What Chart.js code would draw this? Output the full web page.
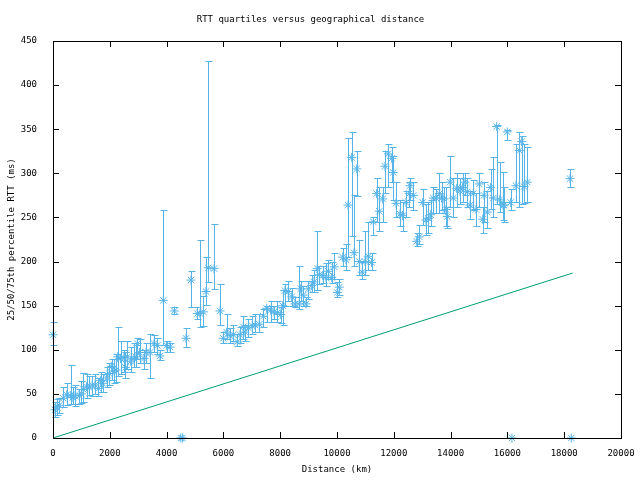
<!DOCTYPE html>
<html>
<head>
<meta charset="utf-8">
<title>RTT quartiles versus geographical distance</title>
<script src="https://cdn.jsdelivr.net/npm/chart.js@4.4.1/dist/chart.umd.min.js"></script>
<style>
  body { margin: 0; background: #fff; }
  #wrap { width: 640px; height: 480px; }
</style>
</head>
<body>
<div id="wrap"><canvas id="rtt-chart" width="640" height="480"></canvas></div>
<script>
// distance (km), median RTT and 25th/75th percentile RTT (ms)
const distKm = [
  0, 70, 150, 222, 363, 482, 623, 700, 775, 927,
  1000, 1067, 1180, 1279, 1380, 1479, 1595, 1680, 1749, 1890,
  1980, 2067, 2150, 2218, 2278, 2380, 2500, 2550, 2617, 2735,
  2850, 2923, 2970, 3050, 3204, 3275, 3415, 3556, 3673, 3768,
  3885, 4000, 4120, 4272, 4500, 4560, 4683, 4859, 5082, 5176,
  5293, 5387, 5470, 5670, 5880, 5997, 6115, 6232, 6350, 6490,
  6585, 6700, 6760, 6877, 7018, 7113, 7265, 7406, 7523, 7664,
  7782, 7899, 8017, 8087, 8170, 8285, 8404, 8521, 8673, 8720,
  8814, 8908, 8990, 9110, 9190, 9306, 9377, 9497, 9613, 9694,
  9813, 9905, 10011, 10081, 10200, 10317, 10387, 10517, 10598, 10693,
  10786, 10890, 10986, 11102, 11220, 11280, 11395, 11490, 11607, 11690,
  11807, 11925, 11982, 12077, 12218, 12312, 12430, 12546, 12570, 12687,
  12806, 12898, 13018, 13134, 13215, 13299, 13391, 13486, 13603, 13687,
  13768, 13838, 13884, 13980, 14095, 14215, 14330, 14426, 14507, 14588,
  14683, 14800, 14894, 15010, 15130, 15176, 15292, 15412, 15505, 15623,
  15730, 15845, 15880, 15996, 16115, 16160, 16302, 16420, 16503, 16585,
  16700, 18204, 18250
];
const medianMs = [
  117, 32, 35, 37, 45, 49, 48, 46, 48, 48,
  50, 55, 58, 57, 60, 60, 56, 65, 62, 68,
  73, 81, 76, 77, 92, 90, 91, 80, 92, 87,
  90, 92, 107, 97, 90, 97, 97, 107, 105, 93,
  156, 105, 103, 144, 0, 0, 113, 179, 141, 141,
  143, 166, 193, 192, 144, 113, 120, 116, 117, 109,
  117, 126, 120, 125, 127, 128, 129, 138, 147, 145,
  143, 142, 140, 150, 167, 166, 160, 152, 152, 169,
  162, 152, 169, 173, 177, 192, 185, 184, 182, 189,
  182, 194, 165, 171, 205, 202, 264, 318, 210, 305,
  200, 188, 200, 206, 199, 245, 277, 257, 271, 308,
  322, 317, 301, 266, 254, 252, 267, 277, 286, 275,
  223, 228, 267, 247, 249, 253, 272, 272, 277, 272,
  271, 259, 251, 290, 272, 283, 280, 284, 290, 279,
  264, 277, 259, 288, 248, 275, 256, 284, 272, 353,
  270, 264, 264, 347, 267, 0, 286, 326, 336, 285,
  290, 294, 0
];
const lowMs = [
  105, 24, 26, 28, 35, 37, 39, 38, 36, 38,
  40, 41, 45, 49, 48, 50, 48, 52, 52, 58,
  60, 66, 62, 63, 70, 72, 75, 68, 78, 75,
  80, 80, 90, 85, 78, 85, 68, 98, 95, 88,
  105, 98, 98, 141, 0, 0, 103, 148, 135, 126,
  127, 151, 177, 169, 128, 108, 112, 108, 110, 104,
  108, 112, 110, 115, 118, 120, 120, 126, 131, 132,
  135, 132, 130, 128, 150, 155, 150, 148, 146, 155,
  150, 150, 158, 165, 165, 168, 175, 176, 172, 180,
  176, 180, 160, 162, 195, 190, 205, 229, 195, 274,
  185, 180, 185, 190, 190, 230, 245, 235, 245, 278,
  285, 290, 270, 250, 240, 235, 250, 262, 270, 258,
  218, 220, 242, 230, 232, 240, 255, 255, 255, 258,
  255, 240, 238, 262, 250, 262, 265, 268, 275, 262,
  248, 258, 240, 262, 232, 245, 238, 260, 250, 265,
  256, 247, 245, 338, 258, 0, 268, 262, 265, 266,
  267, 284, 0
];
const highMs = [
  131, 41, 44, 45, 58, 62, 83, 58, 60, 56,
  65, 74, 72, 70, 70, 73, 68, 75, 73, 80,
  85, 89, 90, 95, 126, 110, 100, 98, 110, 103,
  108, 105, 113, 112, 100, 108, 118, 117, 113, 100,
  258, 110, 108, 148, 0, 0, 125, 189, 148, 224,
  161, 205, 427, 243, 175, 120, 141, 125, 128, 118,
  126, 138, 128, 135, 138, 140, 140, 146, 150, 155,
  150, 155, 148, 168, 175, 178, 170, 160, 195, 178,
  172, 160, 178, 185, 190, 235, 195, 195, 198, 202,
  200, 210, 177, 180, 215, 220, 340, 347, 275, 325,
  225, 200, 235, 245, 210, 250, 295, 285, 285, 325,
  333, 330, 320, 290, 270, 268, 280, 290, 295, 290,
  232, 242, 282, 265, 268, 270, 285, 282, 300, 290,
  285, 285, 262, 320, 295, 300, 295, 300, 300, 295,
  280, 292, 278, 300, 262, 290, 280, 305, 318, 355,
  313, 302, 285, 349, 282, 0, 333, 347, 342, 333,
  330, 305, 0
];

// propagation reference line (km, ms)
const refKm = [0, 18300];
const refMs = [0, 187];

const xTicks = [0, 2000, 4000, 6000, 8000, 10000, 12000, 14000, 16000, 18000, 20000];
const yTicks = [0, 50, 100, 150, 200, 250, 300, 350, 400, 450];

const BLUE = "#56b4e9";
const GREEN = "#009e73";
const FONT = { family: "DejaVu Sans Mono", size: 9 };

const errorBars = {
  id: "errorBars",
  afterDatasetsDraw(chart) {
    const { ctx, scales: { x, y } } = chart;
    ctx.save();
    ctx.strokeStyle = BLUE;
    ctx.lineWidth = 1;
    ctx.beginPath();
    distKm.forEach((d, i) => {
      if (lowMs[i] === highMs[i]) return;
      const px = Math.round(x.getPixelForValue(d)) + 0.5;
      const y1 = Math.round(y.getPixelForValue(lowMs[i])) + 0.5;
      const y2 = Math.round(y.getPixelForValue(highMs[i])) + 0.5;
      ctx.moveTo(px, y1);
      ctx.lineTo(px, y2);
      ctx.moveTo(px - 3, y1);
      ctx.lineTo(px + 4, y1);
      ctx.moveTo(px - 3, y2);
      ctx.lineTo(px + 4, y2);
    });
    ctx.stroke();
    ctx.restore();
  },
};

// gnuplot style frame with inward ticks on all four sides
const frame = {
  id: "frame",
  afterDraw(chart) {
    const { ctx, chartArea: a, scales: { x, y } } = chart;
    ctx.save();
    ctx.strokeStyle = "#000";
    ctx.lineWidth = 1;
    ctx.beginPath();
    xTicks.forEach((v) => {
      const p = Math.round(x.getPixelForValue(v)) + 0.5;
      ctx.moveTo(p, a.bottom);
      ctx.lineTo(p, a.bottom - 6);
      ctx.moveTo(p, a.top);
      ctx.lineTo(p, a.top + 6);
    });
    yTicks.forEach((v) => {
      const p = Math.round(y.getPixelForValue(v)) + 0.5;
      ctx.moveTo(a.left, p);
      ctx.lineTo(a.left + 6, p);
      ctx.moveTo(a.right, p);
      ctx.lineTo(a.right - 6, p);
    });
    ctx.stroke();
    ctx.strokeRect(
      Math.round(a.left) + 0.5,
      Math.round(a.top) + 0.5,
      Math.round(a.right - a.left),
      Math.round(a.bottom - a.top)
    );
    ctx.restore();
  },
};

new Chart(document.getElementById("rtt-chart"), {
  type: "scatter",
  data: {
    datasets: [
      {
        type: "line",
        data: refKm.map((d, i) => ({ x: d, y: refMs[i] })),
        borderColor: GREEN,
        borderWidth: 1,
        pointRadius: 0,
        fill: false,
      },
      {
        data: distKm.map((d, i) => ({ x: d, y: medianMs[i] })),
        pointStyle: "star",
        pointRadius: 4.5,
        borderWidth: 1,
        borderColor: BLUE,
        backgroundColor: BLUE,
        clip: false,
      },
    ],
  },
  options: {
    responsive: false,
    animation: false,
    devicePixelRatio: 1,
    layout: { padding: { left: 0, right: 19, top: 0, bottom: 0 } },
    plugins: {
      legend: { display: false },
      tooltip: { enabled: false },
      title: {
        display: true,
        text: "RTT quartiles versus geographical distance",
        color: "#000",
        font: { ...FONT, weight: "normal" },
        padding: { top: 14, bottom: 16.2 },
      },
    },
    scales: {
      x: {
        type: "linear",
        min: 0,
        max: 20000,
        afterBuildTicks: (s) => { s.ticks = xTicks.map((v) => ({ value: v })); },
        afterFit: (s) => {
          s.height = 42;
          s.paddingLeft = 0;
          s.paddingRight = 0;
        },
        grid: { display: false },
        border: { display: false },
        ticks: {
          color: "#000",
          font: FONT,
          padding: 2,
          maxRotation: 0,
          callback: (v) => String(v),
        },
        title: {
          display: true,
          text: "Distance (km)",
          color: "#000",
          font: FONT,
          padding: { top: 0, bottom: 4.6 },
        },
      },
      y: {
        type: "linear",
        min: 0,
        max: 450,
        afterBuildTicks: (s) => { s.ticks = yTicks.map((v) => ({ value: v })); },
        afterFit: (s) => {
          s.width = 53;
          s.paddingTop = 0;
          s.paddingBottom = 0;
        },
        grid: { display: false },
        border: { display: false },
        ticks: { color: "#000", font: FONT, padding: 8, callback: (v) => String(v) },
        title: {
          display: true,
          text: "25/50/75th percentile RTT (ms)",
          color: "#000",
          font: FONT,
          padding: { top: 6.6, bottom: 0 },
        },
      },
    },
  },
  plugins: [errorBars, frame],
});
</script>
</body>
</html>
